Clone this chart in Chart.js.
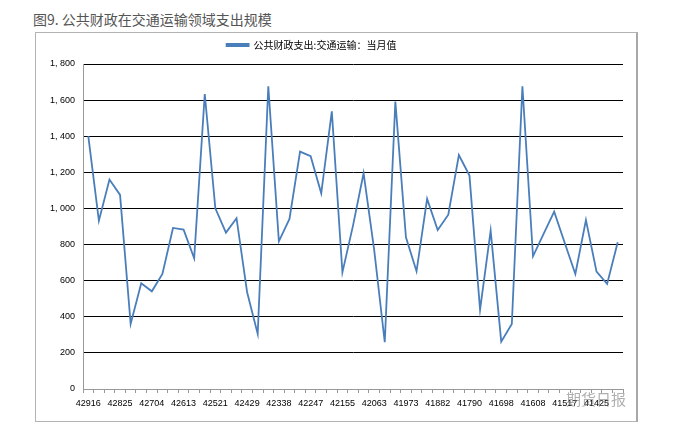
<!DOCTYPE html>
<html>
<head>
<meta charset="utf-8">
<script src="https://cdn.jsdelivr.net/npm/chart.js@4"></script>
<style>
  body { margin: 0; background: #fff; width: 700px; height: 435px; position: relative; overflow: hidden; }
  #title { position: absolute; left: 33px; top: 9px; font: 14px "Noto Sans CJK SC", sans-serif; color: #555; }
  #frame { position: absolute; left: 35px; top: 32px; width: 600px; height: 388px; border: 1px solid #b4b4b4; border-right: 2px solid #a8a8a8; }
  #mark { position: absolute; left: 566px; top: 388px; font: 15px "Noto Sans CJK SC", sans-serif; color: rgba(110,110,110,0.55); }
  canvas { position: absolute; left: 0; top: 0; }
</style>
</head>
<body>
<div id="title">图9. 公共财政在交通运输领域支出规模</div>
<div id="frame"></div>
<canvas id="chart" width="700" height="435"></canvas>
<div id="mark">期货日报</div>
<script>
// monthly values, newest first (亿元)
const seriesName = '公共财政支出:交通运输：当月值';
const values = [
  1400, 932, 1160, 1075, 360, 585, 541, 637, 892, 883,
  724, 1634, 1001, 866, 946, 536, 305, 1677, 818, 942,
  1315, 1289, 1084, 1538, 646, 905, 1195, 770, 259, 1592,
  840, 652, 1053, 881, 965, 1296, 1182, 439, 877, 262,
  360, 1677, 735, 859, 982, 809, 637, 936, 650, 582,
  813
];
// every third month is labelled (excel date serials)
const tickLabels = [
  '42916', '42825', '42704', '42613', '42521', '42429', '42338', '42247', '42155',
  '42063', '41973', '41882', '41790', '41698', '41608', '41517', '41425'
];
const yTicks = [0, 200, 400, 600, 800, 1000, 1200, 1400, 1600, 1800];

const labels = values.map((v, i) => i % 3 === 0 ? tickLabels[i / 3] : '');
const tickFont = { family: 'Liberation Sans', size: 9 };

// a bit more room between the legend and the plot
const legendGap = {
  id: 'legendGap',
  beforeLayout(chart) {
    const lg = chart.legend;
    if (lg && !lg._gapPatched) {
      const fit = lg.fit;
      lg.fit = function () { fit.call(this); this.height += 4; };
      lg._gapPatched = true;
    }
  }
};

new Chart(document.getElementById('chart'), {
  type: 'line',
  data: {
    labels: labels,
    datasets: [{
      label: seriesName,
      data: values,
      borderColor: '#4a7ebb',
      backgroundColor: '#4a7ebb',
      borderWidth: 1.8,
      pointRadius: 0,
      tension: 0
    }]
  },
  options: {
    responsive: false,
    animation: false,
    layout: { padding: { left: 0, right: 77, top: 26, bottom: 13 } },
    plugins: {
      legend: {
        labels: {
          boxWidth: 22, boxHeight: 2, padding: 14,
          color: '#000',
          font: { family: 'Noto Sans CJK SC', size: 10 }
        }
      },
      tooltip: { enabled: false }
    },
    scales: {
      x: {
        offset: true,
        grid: { offset: true, drawOnChartArea: false, drawTicks: true, tickLength: 4, color: '#999' },
        border: { color: '#999' },
        ticks: { autoSkip: false, maxRotation: 0, color: '#000', font: tickFont, padding: 5 },
        afterFit: s => { s.height = 33; }
      },
      y: {
        min: 0, max: 1800,
        afterBuildTicks: s => { s.ticks = yTicks.map(v => ({ value: v })); },
        grid: {
          drawTicks: false,
          color: c => c.tick.value === 0 ? '#999' : '#000',
          lineWidth: 1
        },
        border: { color: '#999' },
        ticks: {
          color: '#000', font: tickFont, padding: 8,
          callback: v => v >= 1000 ? Math.floor(v / 1000) + ', ' + String(v % 1000).padStart(3, '0') : String(v)
        },
        afterFit: s => { s.width = 83; }
      }
    }
  },
  plugins: [legendGap]
});
</script>
</body>
</html>
